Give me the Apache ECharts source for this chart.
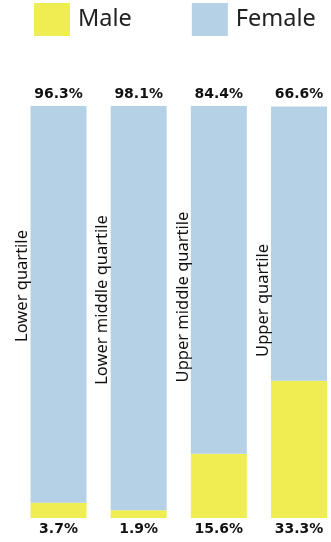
<!DOCTYPE html>
<html>
<head>
<meta charset="utf-8">
<script src="https://cdn.jsdelivr.net/npm/echarts@6/dist/echarts.min.js"></script>
<style>html,body{margin:0;padding:0;background:#fff;}#c{width:331px;height:542px;}</style>
</head>
<body>
<div id="c"></div>
<script>
var categories = ['Lower quartile', 'Lower middle quartile', 'Upper middle quartile', 'Upper quartile'];
var male = [3.7, 1.9, 15.6, 33.3];
var female = [96.3, 98.1, 84.4, 66.6];
var seriesNames = ['Male', 'Female'];

var YELLOW = '#eeee52';
var BLUE = '#b5d1e5';
var labelY = [180, 194, 191, 194];

var chart = echarts.init(document.getElementById('c'), null, {renderer: 'canvas'});
var pctFmt = function (p) { return p.value.toFixed(1) + '%'; };
var pctStyle = {fontFamily: 'DejaVu Sans', fontWeight: 'bold', fontSize: 14, color: '#111'};

chart.setOption({
  animation: false,
  legend: {
    data: seriesNames,
    left: 29, top: -2,
    itemWidth: 36, itemHeight: 33, itemGap: 60,
    icon: 'rect',
    textStyle: {fontFamily: 'Noto Sans', fontSize: 23.5, color: '#222', padding: [0, 0, 0, 3]}
  },
  grid: {left: 58.5, right: 32, top: 106, bottom: 24},
  xAxis: {type: 'category', data: categories, show: false, boundaryGap: false},
  yAxis: {type: 'value', min: 0, max: 100, show: false},
  series: [
    {
      name: seriesNames[0], type: 'bar', stack: 's', data: male, barWidth: 56,
      itemStyle: {color: YELLOW},
      label: Object.assign({show: true, position: 'bottom', distance: 4, formatter: pctFmt}, pctStyle)
    },
    {
      name: seriesNames[1], type: 'bar', stack: 's', data: female, barWidth: 56,
      itemStyle: {color: BLUE},
      label: Object.assign({show: true, position: 'top', distance: 5, formatter: pctFmt}, pctStyle)
    },
    {
      name: 'cat', type: 'bar', barWidth: 56, barGap: '-100%', silent: true,
      itemStyle: {color: 'rgba(0,0,0,0)'},
      data: male.map(function (m, i) {
        return {value: +(m + female[i]).toFixed(1), label: {position: [-8, labelY[i]]}};
      }),
      label: {show: true, rotate: 90, align: 'center', verticalAlign: 'middle',
        formatter: '{b}', fontFamily: 'Noto Sans', fontSize: 16.5, color: '#111'}
    }
  ]
});
</script>
</body>
</html>
